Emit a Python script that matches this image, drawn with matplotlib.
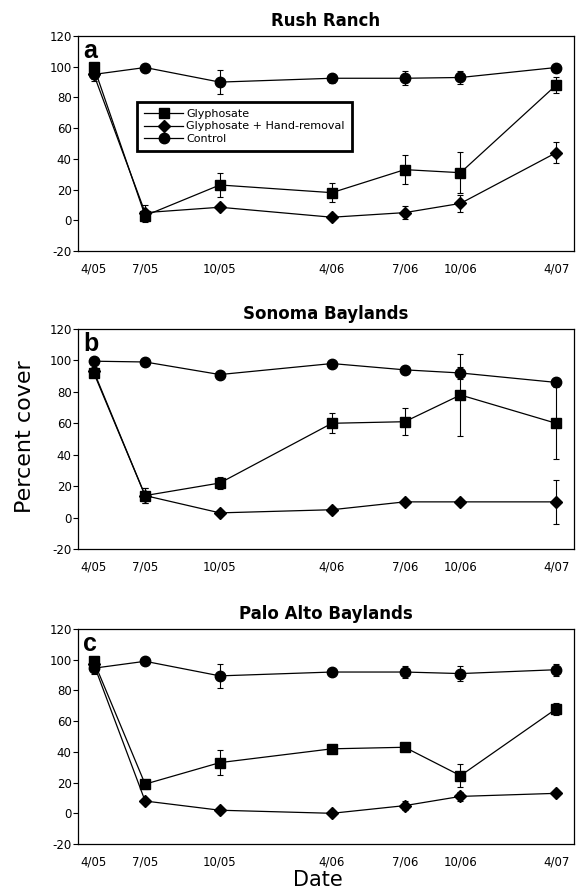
import matplotlib
matplotlib.use('Agg')
import matplotlib.pyplot as plt

plt.rcParams['axes.unicode_minus'] = False

# datas de amostragem (dias desde 4/05) e rotulos
dias = [0, 81, 199, 376, 491, 579, 730]
rotulos = ['4/05', '7/05', '10/05', '4/06', '7/06', '10/06', '4/07']

titulos = ['Rush Ranch', 'Sonoma Baylands', 'Palo Alto Baylands']
letras = ['a', 'b', 'c']

# a - Rush Ranch
glifo_a = [100, 3, 23, 18, 33, 31, 88]
glifo_a_err = [2, 4, 8, 6, 9.5, 13.5, 5]
mao_a = [95, 5, 8.5, 2, 5, 11, 44]
mao_a_err = [3, 5, 0, 0, 4, 5.5, 7]
ctrl_a = [95, 99.5, 90, 92.5, 92.5, 93, 99.5]
ctrl_a_err = [4, 0, 8, 3, 4.5, 4.5, 0]

# b - Sonoma Baylands
glifo_b = [92, 14, 22, 60, 61, 78, 60]
glifo_b_err = [2, 5, 4, 6.5, 8.5, 26, 23]
mao_b = [93, 14, 3, 5, 10, 10, 10]
mao_b_err = [0, 5, 0, 0, 0, 0, 14]
ctrl_b = [99.5, 99, 91, 98, 94, 92, 86]
ctrl_b_err = [0, 0, 0, 0, 0, 4, 0]

# c - Palo Alto Baylands
glifo_c = [99, 19, 33, 42, 43, 24.5, 68]
glifo_c_err = [2, 3, 8, 2, 2, 7.5, 4]
mao_c = [97, 8, 2, 0, 5, 11, 13]
mao_c_err = [0, 0, 0, 0, 3, 3, 0]
ctrl_c = [94.5, 99, 89.5, 92, 92, 91, 93.5]
ctrl_c_err = [4, 0, 8, 2, 4, 5, 4]

paineis = [
    [(glifo_a, glifo_a_err), (mao_a, mao_a_err), (ctrl_a, ctrl_a_err)],
    [(glifo_b, glifo_b_err), (mao_b, mao_b_err), (ctrl_b, ctrl_b_err)],
    [(glifo_c, glifo_c_err), (mao_c, mao_c_err), (ctrl_c, ctrl_c_err)],
]
nomes = ['Glyphosate', 'Glyphosate + Hand-removal', 'Control']
marcadores = ['s', 'D', 'o']
tamanhos = [7, 6.5, 7.5]

fig = plt.figure(figsize=(5.82, 8.92), dpi=100)

# posicoes dos eixos (left, bottom, width, height)
caixas = [
    [0.134, 0.7186, 0.852, 0.241],
    [0.134, 0.3845, 0.852, 0.2467],
    [0.134, 0.0538, 0.852, 0.241],
]

for i, caixa in enumerate(caixas):
    ax = fig.add_axes(caixa)
    handles = []
    for (vals, errs), m, ms, nome in zip(paineis[i], marcadores, tamanhos, nomes):
        ax.errorbar(dias, vals, yerr=errs, fmt='none', ecolor='black',
                    elinewidth=0.8, capsize=2.5, capthick=0.8)
        h, = ax.plot(dias, vals, color='black', lw=0.9, marker=m,
                     markersize=ms, markerfacecolor='black',
                     markeredgecolor='black', label=nome)
        handles.append(h)

    ax.set_xlim(-25, 758)
    ax.set_ylim(-20, 120)
    ax.set_yticks(range(-20, 121, 20))
    ax.set_xticks(dias)
    ax.set_xticklabels(rotulos)
    ax.tick_params(axis='x', length=0, pad=8, labelsize=8.5)
    ax.tick_params(axis='y', direction='out', length=3.5, width=0.8,
                   pad=1, labelsize=8.5)
    for s in ax.spines.values():
        s.set_linewidth(0.9)

    ax.set_title(titulos[i], fontsize=12, fontweight='bold', pad=7)
    ax.text(0.01, 0.985, letras[i], transform=ax.transAxes,
            fontsize=18, fontweight='bold', family='Liberation Sans',
            ha='left', va='top')

    if i == 0:
        leg = ax.legend(handles=handles, loc='upper left',
                        bbox_to_anchor=(0.119, 0.693), borderaxespad=0,
                        fontsize=8, handlelength=3.5, handletextpad=0.3,
                        labelspacing=0.2, borderpad=0.65, fancybox=False,
                        framealpha=1)
        leg.get_frame().set_edgecolor('black')
        leg.get_frame().set_linewidth(2)

fig.text(0.043, 0.51, 'Percent cover', rotation=90, fontsize=16,
         ha='center', va='center')
fig.text(0.546, 0.002, 'Date', fontsize=15, ha='center', va='bottom')

plt.savefig('out.png', dpi=100)
